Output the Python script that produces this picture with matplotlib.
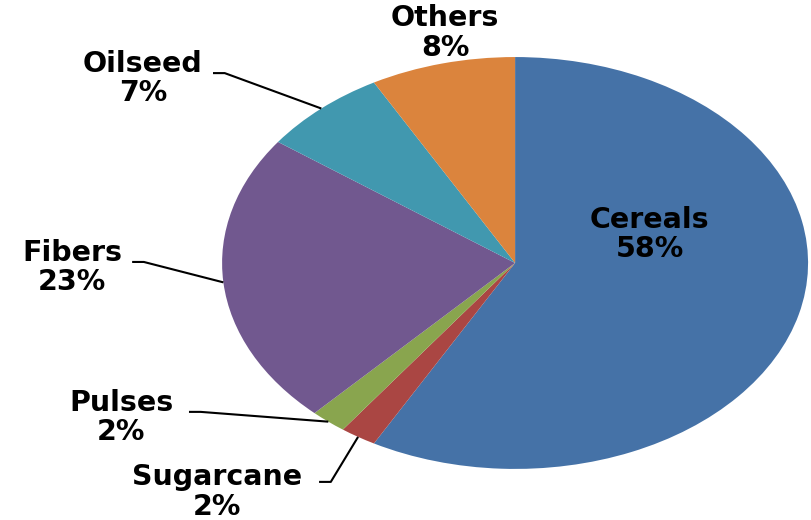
import numpy as np
import matplotlib
matplotlib.use("Agg")
import matplotlib.pyplot as plt

# crop share data, clockwise from 12 o'clock
crops = ["Cereals", "Sugarcane", "Pulses", "Fibers", "Oilseed", "Others"]
shares = [58, 2, 2, 23, 7, 8]
colors = ["#4572A7", "#AA4643", "#89A54E", "#71588F", "#4198AF", "#DB843D"]

# label centres (data units, pie radius = 1) and leader start points
label_pos = {
    "Cereals": (0.46, 0.14),
    "Sugarcane": (-1.017, -1.112),
    "Pulses": (-1.345, -0.752),
    "Fibers": (-1.512, -0.024),
    "Oilseed": (-1.270, 0.898),
    "Others": (-0.239, 1.117),
}
leader_start = {
    "Sugarcane": (-0.669, -1.063),
    "Pulses": (-1.113, -0.723),
    "Fibers": (-1.307, 0.005),
    "Oilseed": (-1.031, 0.922),
}

fig = plt.figure(figsize=(8.11, 5.20), dpi=100)
ax = fig.add_axes([0, 0, 1, 1])

wedges, _ = ax.pie(
    shares,
    colors=colors,
    startangle=90,
    counterclock=False,
    wedgeprops=dict(linewidth=0),
)

# stretched (elliptical) pie: free aspect with chosen limits
ax.set_aspect("auto")
ax.set_xlim(-1.758, 1.010)
ax.set_ylim(-1.248, 1.277)
ax.axis("off")

for name, val, w in zip(crops, shares, wedges):
    lx, ly = label_pos[name]
    ax.text(lx, ly, f"{name}\n{val}%", ha="center", va="center",
            fontsize=20.5, fontweight="bold", family="DejaVu Sans",
            linespacing=1.05, color="black")
    if name in leader_start:
        mid = np.deg2rad((w.theta1 + w.theta2) / 2)
        ex, ey = np.cos(mid), np.sin(mid)
        sx, sy = leader_start[name]
        ax.plot([sx, sx + 0.04, ex], [sy, sy, ey], color="black", lw=1.5,
                solid_capstyle="butt")

fig.savefig("out.png", dpi=100)
